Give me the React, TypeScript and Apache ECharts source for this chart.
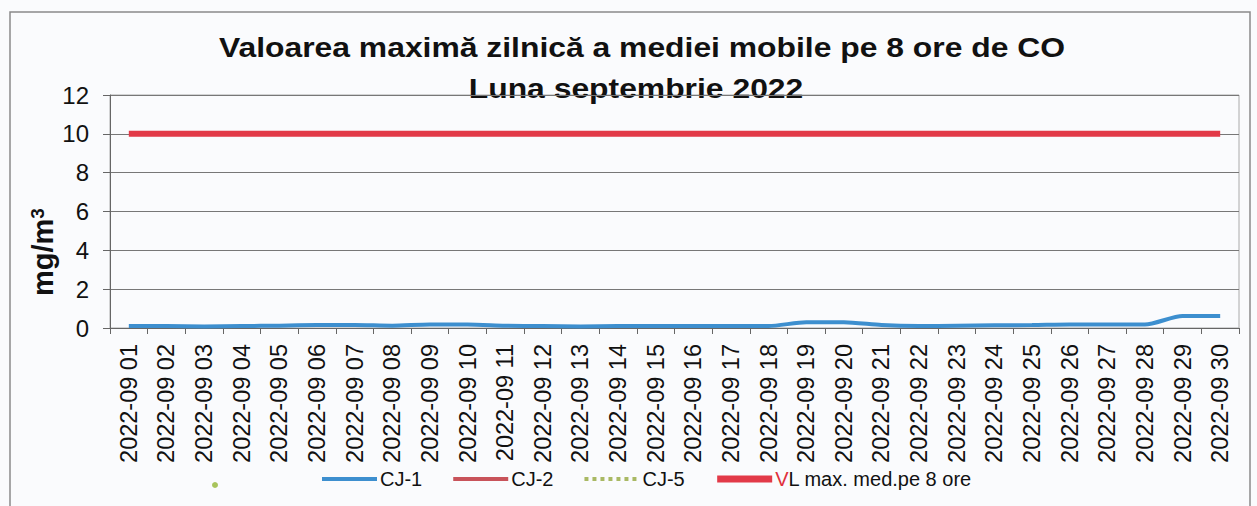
import React, { useEffect, useRef } from 'react';
import * as echarts from 'echarts';

const categories = [
  '2022-09 01', '2022-09 02', '2022-09 03', '2022-09 04', '2022-09 05',
  '2022-09 06', '2022-09 07', '2022-09 08', '2022-09 09', '2022-09 10',
  '2022-09 11', '2022-09 12', '2022-09 13', '2022-09 14', '2022-09 15',
  '2022-09 16', '2022-09 17', '2022-09 18', '2022-09 19', '2022-09 20',
  '2022-09 21', '2022-09 22', '2022-09 23', '2022-09 24', '2022-09 25',
  '2022-09 26', '2022-09 27', '2022-09 28', '2022-09 29', '2022-09 30',
];

const cj1 = [
  0.1, 0.1, 0.08, 0.1, 0.12, 0.15, 0.16, 0.12, 0.18, 0.18,
  0.12, 0.1, 0.08, 0.1, 0.1, 0.1, 0.1, 0.1, 0.3, 0.3,
  0.15, 0.1, 0.12, 0.14, 0.15, 0.18, 0.18, 0.18, 0.62, 0.62,
];
const cj2: (number | null)[] = [];
const cj5: (number | null)[] = [];
const unnamed: (number | null)[] = [];
const vl = [
  10, 10, 10, 10, 10, 10, 10, 10, 10, 10,
  10, 10, 10, 10, 10, 10, 10, 10, 10, 10,
  10, 10, 10, 10, 10, 10, 10, 10, 10, 10,
];

const yTicks = { min: 0, max: 12, interval: 2 };

const titleLine1 = 'Valoarea maximă zilnică a mediei mobile pe 8 ore de CO';
const titleLine2 = 'Luna septembrie 2022';
const yNameMain = 'mg/m';
const yNameSup = '3';
const vlName = 'VL max. med.pe 8 ore';

const FONT = '"Liberation Sans", Arial, sans-serif';

export default function App() {
  const ref = useRef<HTMLDivElement>(null);
  useEffect(() => {
    if (!ref.current) return;
    const chart = echarts.init(ref.current, undefined, { renderer: 'svg' });
    const legendText = {
      fontFamily: FONT,
      fontSize: 20,
      color: '#111',
    };
    chart.setOption({
      animation: false,
      backgroundColor: '#fafbfd',
      textStyle: { fontFamily: FONT },
      graphic: [
        {
          type: 'rect',
          shape: { x: 10, y: 12, width: 1240, height: 520 },
          style: { fill: 'none', stroke: '#8a8a8a', lineWidth: 1.5 },
          silent: true,
        },
        {
          type: 'text',
          x: 642,
          y: 47,
          scaleX: 1.18,
          style: {
            text: titleLine1,
            font: `bold 27px ${FONT}`,
            fill: '#111',
            textAlign: 'center',
            textVerticalAlign: 'middle',
          },
        },
        {
          type: 'text',
          x: 636,
          y: 88,
          scaleX: 1.18,
          style: {
            text: titleLine2,
            font: `bold 27px ${FONT}`,
            fill: '#111',
            textAlign: 'center',
            textVerticalAlign: 'middle',
          },
        },
        {
          type: 'text',
          x: 43,
          y: 252,
          rotation: Math.PI / 2,
          style: {
            text: `{m|${yNameMain}}{s|${yNameSup}}`,
            textAlign: 'center',
            textVerticalAlign: 'middle',
            rich: {
              m: { fontFamily: FONT, fontWeight: 'bold', fontSize: 29, fill: '#111', color: '#111' },
              s: {
                fontFamily: FONT,
                fontWeight: 'bold',
                fontSize: 19,
                fill: '#111',
                color: '#111',
                verticalAlign: 'top',
                padding: [0, 0, 12, 0],
              },
            },
          },
        },
      ],
      grid: {
        left: 110,
        right: 18,
        top: 95,
        bottom: 178,
        show: true,
        borderColor: '#aaa',
        borderWidth: 1,
        backgroundColor: 'transparent',
      },
      legend: [
        {
          data: [' '],
          left: 207,
          top: 472,
          icon: 'circle',
          itemWidth: 6,
          itemHeight: 6,
          selectedMode: false,
          textStyle: { fontSize: 16 },
        },
        {
          data: [
            { name: 'CJ-1', lineStyle: { width: 4 } },
            { name: 'CJ-2', lineStyle: { width: 4 } },
            { name: 'CJ-5', lineStyle: { width: 4 } },
            { name: vlName, lineStyle: { width: 7 } },
          ],
          left: 315,
          top: 464,
          itemWidth: 55,
          itemHeight: 20,
          itemGap: 29,
          selectedMode: false,
          itemStyle: { color: 'transparent', borderColor: 'transparent', borderWidth: 0 },
          formatter: (name: string) => (name === vlName ? '{r|V}{n|L max. med.pe 8 ore}' : name),
          textStyle: {
            ...legendText,
            padding: [0, 0, 0, -2],
            rich: {
              r: { ...legendText, color: '#e0303c' },
              n: { ...legendText },
            },
          },
        },
      ],
      xAxis: {
        type: 'category',
        data: categories,
        boundaryGap: true,
        axisLine: { show: true, lineStyle: { color: '#666', width: 1 } },
        axisTick: { show: true, length: 6, interval: 0, lineStyle: { color: '#666' } },
        axisLabel: {
          rotate: 90,
          interval: 0,
          fontSize: 23.5,
          margin: 16,
          color: '#111',
          fontFamily: FONT,
        },
      },
      yAxis: {
        type: 'value',
        min: yTicks.min,
        max: yTicks.max,
        interval: yTicks.interval,
        axisLine: { show: true, lineStyle: { color: '#666', width: 1 } },
        axisTick: { show: true, length: 7, lineStyle: { color: '#666' } },
        axisLabel: { fontSize: 24, color: '#111', margin: 21, fontFamily: FONT },
        splitLine: { show: true, lineStyle: { color: '#777', width: 1 } },
      },
      series: [
        {
          name: ' ',
          type: 'line',
          data: unnamed,
          symbol: 'circle',
          symbolSize: 5,
          itemStyle: { color: '#a8c45c' },
        },
        {
          name: 'CJ-1',
          type: 'line',
          data: cj1,
          symbol: 'none',
          smooth: 0.25,
          lineStyle: { color: '#3d8fcf', width: 4 },
          itemStyle: { color: '#3d8fcf' },
          z: 5,
        },
        {
          name: 'CJ-2',
          type: 'line',
          data: cj2,
          symbol: 'none',
          lineStyle: { color: '#c8535a', width: 4 },
          itemStyle: { color: '#c8535a' },
        },
        {
          name: 'CJ-5',
          type: 'line',
          data: cj5,
          symbol: 'none',
          lineStyle: { color: '#a9b964', width: 4, type: 'dotted' },
          itemStyle: { color: '#a9b964' },
        },
        {
          name: vlName,
          type: 'line',
          data: vl,
          symbol: 'none',
          lineStyle: { color: '#e23a48', width: 6 },
          itemStyle: { color: '#e23a48' },
          z: 4,
        },
      ],
    });
    return () => chart.dispose();
  }, []);
  return (
    <div
      ref={ref}
      style={{ position: 'fixed', left: 0, top: 0, width: 1257, height: 506 }}
    />
  );
}
